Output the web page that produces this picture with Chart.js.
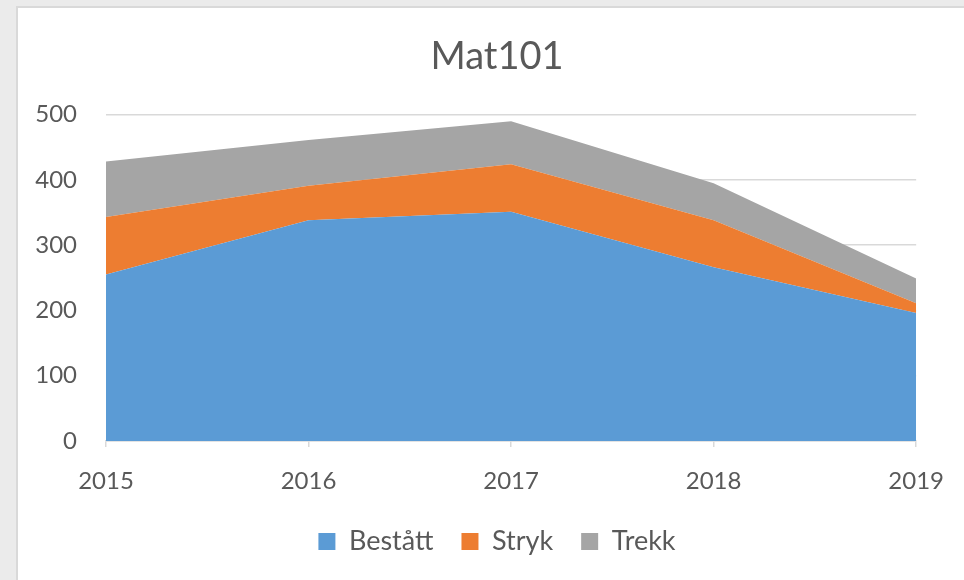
<!DOCTYPE html>
<html lang="no">
<head>
  <meta charset="UTF-8">
  <title>Mat101</title>
  <style>
    html, body { margin: 0; padding: 0; background: #ebebeb; }
    .chart-container { position: absolute; left: 0; top: 0; width: 964px; height: 580px; }
  </style>
</head>
<body>
  <div class="chart-container">
    <canvas id="myChart" width="964" height="580"></canvas>
  </div>

  <script src="https://cdn.jsdelivr.net/npm/chart.js"></script>
  <script>
    // Chart data.
    const years = ['2015', '2016', '2017', '2018', '2019'];
    const bestatt = [255, 338, 351, 266, 196];
    const stryk = [88, 53, 73, 72, 15];
    const trekk = [85, 70, 66, 57, 38];
    const yTicks = [0, 100, 200, 300, 400, 500];

    const TEXT = '#595959';
    const GRID = '#d9d9d9';
    const FONT = 'Lato, "Open Sans", sans-serif';

    // Grey window background with the white chart card on it.
    const cardPlugin = {
      id: 'card',
      beforeDraw(chart) {
        const ctx = chart.ctx;
        ctx.save();
        ctx.fillStyle = '#ebebeb';
        ctx.fillRect(0, 0, chart.width, chart.height);
        ctx.fillStyle = '#d9d9d9';
        ctx.fillRect(16, 6, chart.width - 16, chart.height - 6);
        ctx.fillStyle = '#ffffff';
        ctx.fillRect(18, 8, chart.width - 18, chart.height - 8);
        ctx.restore();
      }
    };

    function area(label, data, color, fill) {
      return {
        label,
        data,
        backgroundColor: color,
        borderColor: color,
        borderWidth: 0,
        pointRadius: 0,
        tension: 0,
        fill
      };
    }

    const config = {
      type: 'line',
      data: {
        labels: years,
        datasets: [
          area('Bestått', bestatt, '#5b9bd5', 'origin'),
          area('Stryk', stryk, '#ed7d31', '-1'),
          area('Trekk', trekk, '#a5a5a5', '-1')
        ]
      },
      options: {
        responsive: false,
        animation: false,
        // left padding > right so title and legend centre on the card
        layout: { padding: { left: 30, right: 0, top: 0, bottom: 15 } },
        plugins: {
          legend: {
            position: 'bottom',
            labels: {
              boxWidth: 17,
              boxHeight: 17,
              padding: 28,
              color: TEXT,
              font: { family: FONT, size: 27 }
            }
          },
          title: {
            display: true,
            text: 'Mat101',
            color: TEXT,
            font: { family: FONT, size: 38, weight: 'normal' },
            padding: { top: 34, bottom: 35 }
          },
          tooltip: { enabled: false }
        },
        scales: {
          x: {
            offset: false,
            ticks: { color: TEXT, padding: 20, font: { family: FONT, size: 24 }, maxRotation: 0 },
            grid: { drawOnChartArea: false, drawTicks: true, tickLength: 6, color: GRID, lineWidth: 1.5 },
            border: { display: true, color: GRID, width: 1.5 },
            afterFit: scale => { scale.height = 59; }
          },
          y: {
            stacked: true,
            min: 0,
            max: 500,
            afterBuildTicks: scale => { scale.ticks = yTicks.map(v => ({ value: v })); },
            ticks: { color: TEXT, padding: 29, font: { family: FONT, size: 24 } },
            grid: { drawTicks: false, color: GRID, lineWidth: 1.5 },
            border: { display: false },
            afterFit: scale => { scale.width = 76; }
          },
          // empty axis on the right, only reserves room for the last x label
          right: {
            position: 'right',
            display: true,
            ticks: { display: false },
            grid: { display: false },
            border: { display: false },
            afterFit: scale => { scale.width = 46; }
          }
        }
      },
      plugins: [cardPlugin]
    };

    const chart = new Chart(document.querySelector('#myChart'), config);
    window.chart = chart;
  </script>
</body>
</html>
